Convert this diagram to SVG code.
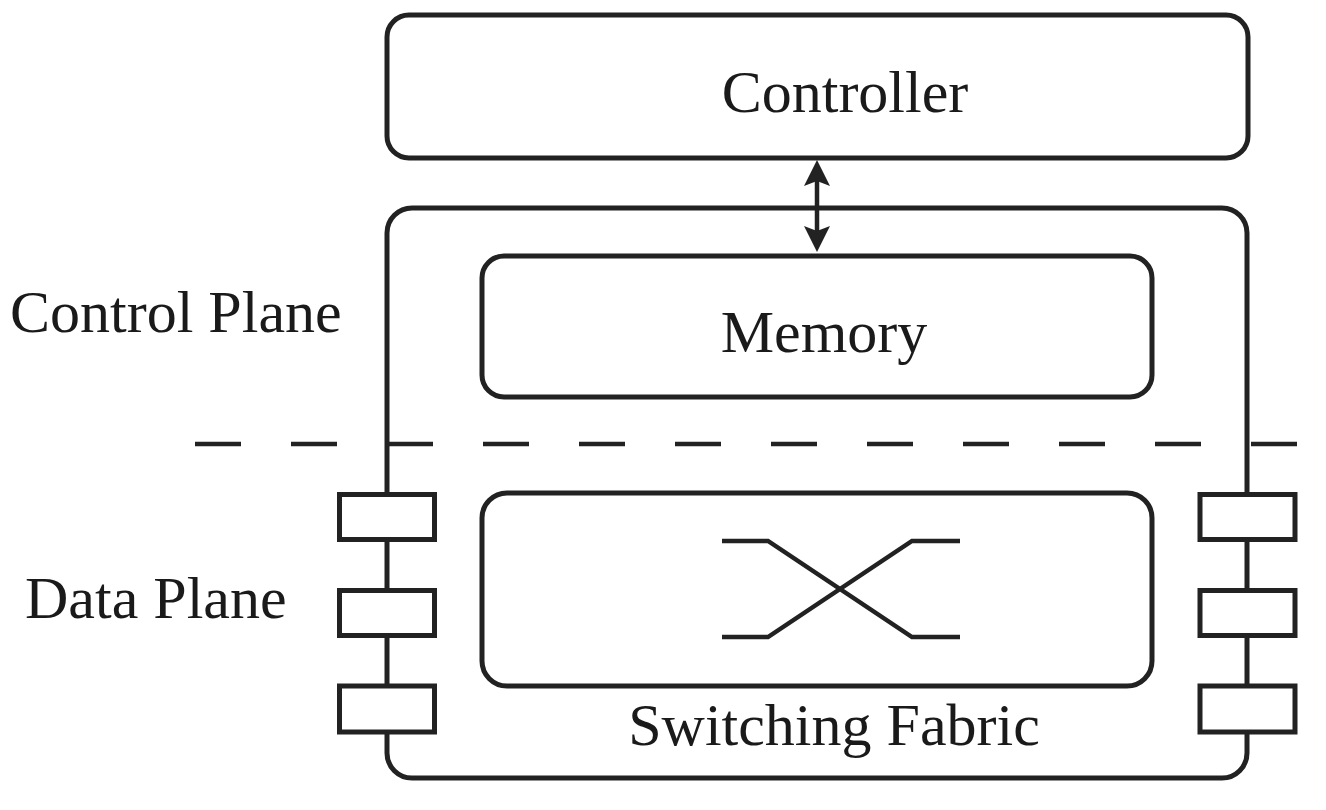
<svg xmlns="http://www.w3.org/2000/svg" width="1326" height="810" viewBox="0 0 1326 810">
<style>
.box{fill:#fff;stroke:#222;stroke-width:5}
.port{fill:#fff;stroke:#222;stroke-width:5}
.lbl{font-family:'Liberation Serif','DejaVu Serif',serif;font-size:60px;fill:#1a1a1a}
.ln{fill:none;stroke:#222;stroke-width:4.5}
</style>
<rect width="1326" height="810" fill="#fff"/>
<g id="controller">
<rect class="box" x="387" y="15" width="861" height="143" rx="22"/>
<text class="lbl" x="845" y="112" text-anchor="middle" font-family="Liberation Serif, serif">Controller</text>
</g>
<g id="switch">
<rect class="box" x="387" y="208" width="860" height="570" rx="25"/>
<text class="lbl" x="834" y="745" text-anchor="middle" font-family="Liberation Serif, serif">Switching Fabric</text>
</g>
<g id="memory">
<rect class="box" x="482" y="256" width="670" height="141" rx="22"/>
<text class="lbl" x="824" y="352" text-anchor="middle" font-family="Liberation Serif, serif">Memory</text>
</g>
<g id="fabric">
<rect class="box" x="482" y="493" width="670" height="193" rx="25"/>
<path class="ln" d="M722,541 H768 L912,637 H960 M722,637 H768 L912,541 H960"/>
</g>
<g id="ports-left">
<rect class="port" x="339.5" y="494.5" width="95" height="45"/>
<rect class="port" x="339.5" y="590.5" width="95" height="45"/>
<rect class="port" x="339.5" y="686" width="95" height="46"/>
</g>
<g id="ports-right">
<rect class="port" x="1200" y="494.5" width="95" height="45"/>
<rect class="port" x="1200" y="590.5" width="95" height="45"/>
<rect class="port" x="1200" y="686" width="95" height="46"/>
</g>
<g id="divider">
<line x1="195" y1="444" x2="1297" y2="444" stroke="#222" stroke-width="4.5" stroke-dasharray="46 50"/>
</g>
<g id="labels">
<text class="lbl" x="10" y="332" font-family="Liberation Serif, serif">Control Plane</text>
<text class="lbl" x="25" y="618" font-family="Liberation Serif, serif">Data Plane</text>
</g>
<g id="connectors">
<line x1="817" y1="180" x2="817" y2="232" stroke="#222" stroke-width="4.5"/>
<polygon points="817,160 804,186 817,181 830,186" fill="#222"/>
<polygon points="817,252 804,226 817,231 830,226" fill="#222"/>
</g>
</svg>
